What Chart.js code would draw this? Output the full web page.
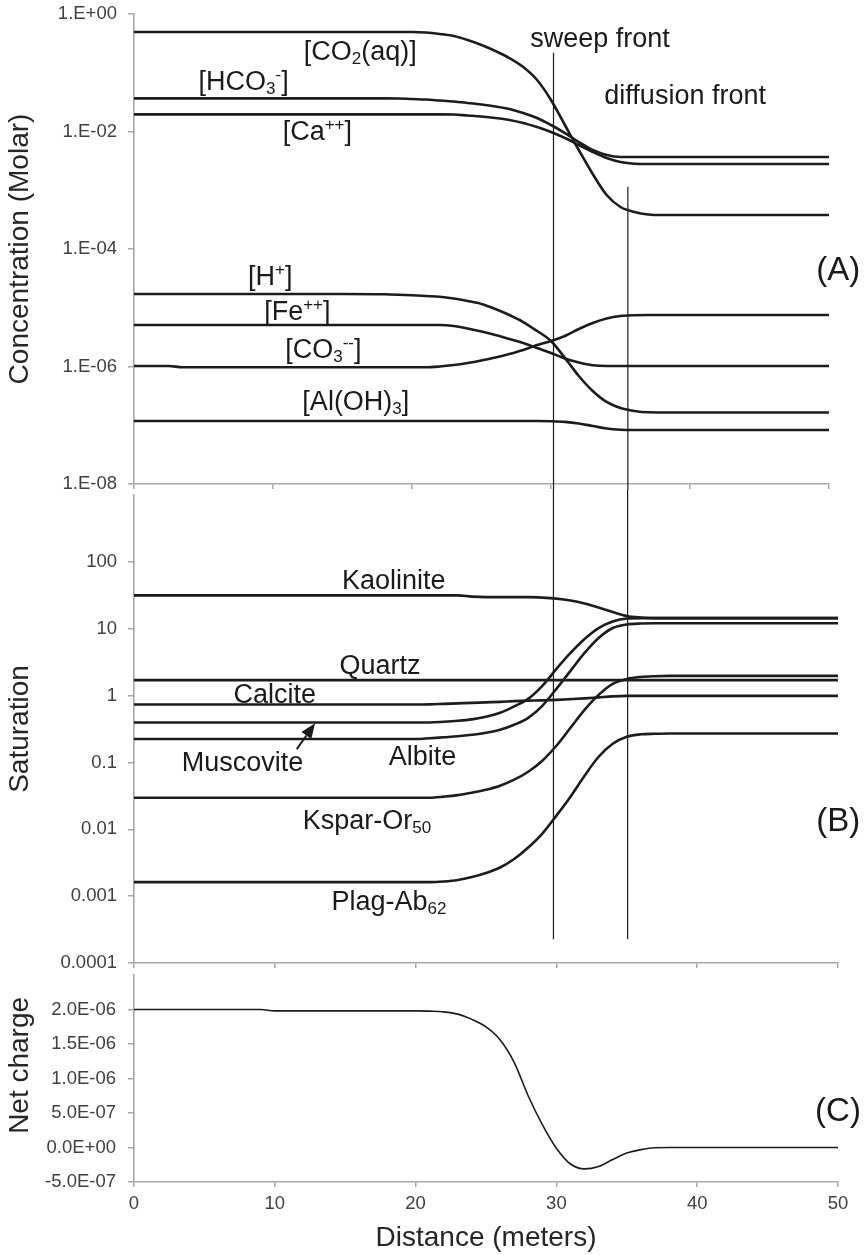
<!DOCTYPE html>
<html><head><meta charset="utf-8">
<script src="https://cdn.jsdelivr.net/npm/chart.js@4.4.1/dist/chart.umd.min.js"></script>
<style>
html,body{margin:0;padding:0;background:#fff;}
#wrap{position:relative;width:866px;height:1255px;overflow:hidden;background:#fff;}
.pane{position:absolute;left:0;width:866px;}
canvas{display:block;}
</style></head><body>
<div id="wrap">
<div class="pane" style="top:0;height:490px"><canvas id="cA" width="866" height="490"></canvas></div>
<div class="pane" style="top:490px;height:480px"><canvas id="cB" width="866" height="480"></canvas></div>
<div class="pane" style="top:970px;height:285px"><canvas id="cC" width="866" height="285"></canvas></div>
</div>
<script>
// ---------- data ----------
const distance = [0, 2.5, 3.5, 9, 10, 15, 18, 19, 20, 21, 22, 23, 24, 25, 26, 27, 28, 29, 30, 31, 32, 33, 34, 35, 36, 37, 38, 40, 45, 50];

// Panel A: concentrations (Molar)
const co2 = [0.494,0.494,0.494,0.494,0.494,0.494,0.494,0.494,0.494,0.484,0.457,0.422,0.361,0.297,0.235,0.178,0.125,0.0752,0.0344,0.0129,0.00484,0.00189,0.00083,0.000519,0.000426,0.000387,0.000379,0.000379,0.000379,0.000379];
const hco3 = [0.0367,0.0367,0.0367,0.0367,0.0367,0.0367,0.0367,0.0365,0.0357,0.0350,0.0337,0.0324,0.0306,0.0288,0.0267,0.0242,0.0207,0.0170,0.0129,0.00942,0.00662,0.00484,0.00398,0.00368,0.00368,0.00368,0.00368,0.00368,0.00368,0.00368];
const ca = [0.0196,0.0196,0.0196,0.0196,0.0196,0.0196,0.0196,0.0196,0.0196,0.0196,0.0196,0.01946,0.01872,0.0180,0.01698,0.0157,0.01396,0.01193,0.0098,0.00775,0.00589,0.00448,0.00354,0.00303,0.00283,0.0028,0.0028,0.0028,0.0028,0.0028];
const hPlus = [1.714e-5,1.714e-5,1.714e-5,1.714e-5,1.714e-5,1.714e-5,1.694e-5,1.667e-5,1.629e-5,1.585e-5,1.542e-5,1.437e-5,1.303e-5,1.158e-5,9.52e-6,7.53e-6,5.72e-6,4.02e-6,2.72e-6,1.40e-6,6.89e-7,3.83e-7,2.49e-7,1.97e-7,1.75e-7,1.66e-7,1.65e-7,1.65e-7,1.65e-7,1.65e-7];
const fe = [5.08e-6,5.08e-6,5.08e-6,5.08e-6,5.08e-6,5.08e-6,5.08e-6,5.08e-6,5.08e-6,5.08e-6,5.08e-6,4.89e-6,4.43e-6,3.94e-6,3.44e-6,2.94e-6,2.51e-6,2.06e-6,1.70e-6,1.37e-6,1.17e-6,1.05e-6,1.02e-6,1.02e-6,1.02e-6,1.02e-6,1.02e-6,1.02e-6,1.02e-6,1.02e-6];
const co3 = [1.02e-6,1.02e-6,9.69e-7,9.69e-7,9.69e-7,9.69e-7,9.69e-7,9.69e-7,9.69e-7,9.69e-7,1.00e-6,1.06e-6,1.15e-6,1.27e-6,1.42e-6,1.63e-6,1.91e-6,2.32e-6,2.72e-6,3.31e-6,4.35e-6,5.50e-6,6.56e-6,7.24e-6,7.47e-6,7.53e-6,7.53e-6,7.53e-6,7.53e-6,7.53e-6];
const alOH3 = [1.18e-7,1.18e-7,1.18e-7,1.18e-7,1.18e-7,1.18e-7,1.18e-7,1.18e-7,1.18e-7,1.18e-7,1.18e-7,1.18e-7,1.18e-7,1.18e-7,1.18e-7,1.18e-7,1.18e-7,1.18e-7,1.17e-7,1.14e-7,1.07e-7,9.71e-8,8.81e-8,8.40e-8,8.30e-8,8.30e-8,8.30e-8,8.30e-8,8.30e-8,8.30e-8];

// Panel B: saturation
const kaolinite = [31.5,31.5,31.5,31.5,31.5,31.5,31.5,31.5,31.5,31.5,31.5,31.5,30.2,29.7,29.7,29.7,29.7,29.2,28.2,26.4,23.8,20.7,17.8,15.5,14.7,14.4,14.4,14.4,14.4,14.4];
const quartz = [1.70,1.70,1.70,1.70,1.70,1.70,1.70,1.70,1.70,1.70,1.70,1.70,1.70,1.70,1.70,1.70,1.70,1.70,1.70,1.70,1.70,1.70,1.70,1.70,1.70,1.70,1.70,1.70,1.70,1.70];
const calcite = [0.734,0.734,0.734,0.734,0.734,0.734,0.734,0.734,0.734,0.739,0.752,0.765,0.778,0.792,0.805,0.825,0.839,0.848,0.863,0.884,0.908,0.940,0.973,0.990,0.990,0.990,0.990,0.990,0.990,0.990];
const muscovite = [0.395,0.395,0.395,0.395,0.395,0.395,0.395,0.395,0.395,0.395,0.405,0.419,0.441,0.481,0.552,0.690,0.893,1.396,2.503,4.339,7.021,10.24,12.81,14.2,14.4,14.4,14.4,14.4,14.4,14.4];
const albite = [0.2236,0.2236,0.2236,0.2236,0.2236,0.2236,0.2236,0.2236,0.2236,0.2297,0.2377,0.2460,0.2591,0.2775,0.3077,0.3653,0.4648,0.702,1.259,2.337,4.339,7.26,10.24,11.56,11.96,12.04,12.04,12.04,12.04,12.04];
const kspar = [0.0297,0.0297,0.0297,0.0297,0.0297,0.0297,0.0297,0.0297,0.0297,0.0297,0.0308,0.0324,0.0353,0.0391,0.0449,0.0552,0.0726,0.1060,0.1775,0.3296,0.6117,1.024,1.495,1.776,1.901,1.948,1.968,1.968,1.968,1.968];
const plag = [0.00162,0.00162,0.00162,0.00162,0.00162,0.00162,0.00162,0.00162,0.00162,0.00162,0.001657,0.001745,0.001934,0.00222,0.002682,0.003591,0.005331,0.008625,0.01601,0.03076,0.0633,0.1216,0.1902,0.2418,0.2636,0.2682,0.271,0.271,0.271,0.271];

// Panel C: net charge
const netCharge = [2.0e-6,2.0e-6,2.0e-6,2.0e-6,1.98e-6,1.98e-6,1.98e-6,1.98e-6,1.98e-6,1.976e-6,1.966e-6,1.933e-6,1.857e-6,1.747e-6,1.561e-6,1.233e-6,7.47e-7,3.33e-7,-1.0e-8,-2.39e-7,-3.10e-7,-2.74e-7,-1.74e-7,-8.1e-8,-3.1e-8,-3e-9,0,0,0,0];

// Ticks
const concTicks = [1e-8, 1e-6, 1e-4, 1e-2, 1];
const concTickLabels = ['1.E-08', '1.E-06', '1.E-04', '1.E-02', '1.E+00'];
const satTicks = [1e-4, 1e-3, 1e-2, 1e-1, 1, 10, 100];
const satTickLabels = ['0.0001', '0.001', '0.01', '0.1', '1', '10', '100'];
const chargeTicks = [-5e-7, 0, 5e-7, 1e-6, 1.5e-6, 2e-6];
const chargeTickLabels = ['-5.0E-07', '0.0E+00', '5.0E-07', '1.0E-06', '1.5E-06', '2.0E-06'];
const distTicks = [0, 10, 20, 30, 40, 50];

// Fronts (distance in each panel's own x scale), vertical extent in axis values
const sweepFrontX = {A: 30.18, B: 29.79};
const diffusionFrontX = {A: 35.53, B: 35.06};
const sweepFrontTopA = 0.2195;
const diffusionFrontTopA = 1.149e-3;
const frontsBottomB = 2.26e-4;

// ---------- styling ----------
const FONT = '"Liberation Sans", Arial, Helvetica, sans-serif';
const AXIS_COLOR = '#a8a8a8';
const TICK_COLOR = '#404040';
const TITLE_COLOR = '#262626';
const LINE_COLOR = '#1c1c1c';

function series(arr, w) {
  return {
    data: distance.map((d, i) => ({x: d, y: arr[i]})),
    borderColor: LINE_COLOR, borderWidth: w || 2.6, pointRadius: 0,
    cubicInterpolationMode: 'monotone', fill: false
  };
}
function front(x, top, bottom) {
  return {
    data: [{x: x, y: top}, {x: x, y: bottom}],
    borderColor: LINE_COLOR, borderWidth: 1.2, pointRadius: 0, clip: false, fill: false
  };
}
function xAxis(showLabels, height) {
  return {
    type: 'linear', min: 0, max: 50, position: 'bottom',
    afterBuildTicks: s => { s.ticks = distTicks.map(v => ({value: v})); },
    ticks: {display: showLabels, color: TICK_COLOR, font: {family: FONT, size: 18.5}, padding: 6, maxRotation: 0, autoSkip: false},
    grid: {drawOnChartArea: false, drawTicks: true, tickLength: 5, color: AXIS_COLOR, lineWidth: 1.5},
    border: {display: true, color: AXIS_COLOR, width: 1.6},
    title: {display: showLabels, text: 'Distance (meters)', color: TITLE_COLOR, font: {family: FONT, size: 28}, padding: {top: 0, bottom: 0}},
    afterFit: s => { s.height = height; s.paddingLeft = 0; s.paddingRight = 0; }
  };
}
function yAxis(type, min, max, tickVals, tickLabels, title, pad) {
  return {
    type: type, min: min, max: max, position: 'left',
    afterBuildTicks: s => { s.ticks = tickVals.map(v => ({value: v})); },
    ticks: {color: TICK_COLOR, font: {family: FONT, size: 18.5}, padding: pad, autoSkip: false,
            callback: (v, i) => tickLabels[i]},
    grid: {drawOnChartArea: false, drawTicks: true, tickLength: 6, color: AXIS_COLOR, lineWidth: 1.5},
    border: {display: true, color: AXIS_COLOR, width: 1.6},
    title: {display: !!title, text: title || '', color: TITLE_COLOR, font: {family: FONT, size: 28}, padding: {top: 3, bottom: 0}},
    afterFit: s => { s.width = 134; s.paddingTop = 0; s.paddingBottom = 0; }
  };
}

function drawRich(ctx, segs, cx, by, size) {
  const subSize = 17;
  const widths = segs.map(s => {
    ctx.font = (s[1] ? subSize : size) + 'px ' + FONT;
    return ctx.measureText(s[0]).width;
  });
  const total = widths.reduce((a, b) => a + b, 0);
  let x = cx - total / 2;
  segs.forEach((s, i) => {
    ctx.font = (s[1] ? subSize : size) + 'px ' + FONT;
    const dy = s[1] === 'sub' ? 4 : (s[1] === 'sup' ? -10 : 0);
    ctx.fillText(s[0], x, by + dy);
    x += widths[i];
  });
}

function labelPlugin(items, extra) {
  return {
    id: 'richLabels',
    afterDatasetsDraw(chart) {
      const ctx = chart.ctx, xs = chart.scales.x, ys = chart.scales.y;
      ctx.save();
      ctx.fillStyle = '#1a1a1a';
      ctx.textAlign = 'left';
      ctx.textBaseline = 'alphabetic';
      items.forEach(it => drawRich(ctx, it.segs, xs.getPixelForValue(it.at[0]), ys.getPixelForValue(it.at[1]), it.size || 27));
      if (extra) extra(chart, ctx, xs, ys);
      ctx.restore();
    }
  };
}

// ---------- annotations ----------
const concAnnotations = [
  {segs: [['[CO'], ['2', 'sub'], ['(aq)]']], at: [16.28, 0.1648]},
  {segs: [['[HCO'], ['3', 'sub'], ['-', 'sup'], [']']], at: [7.89, 0.0508]},
  {segs: [['[Ca'], ['++', 'sup'], [']']], at: [13.19, 0.00717]},
  {segs: [['sweep front']], at: [33.53, 0.2744]},
  {segs: [['diffusion front']], at: [39.65, 0.02938]},
  {segs: [['[H'], ['+', 'sup'], [']']], at: [9.80, 2.438e-5]},
  {segs: [['[Fe'], ['++', 'sup'], [']']], at: [11.75, 6.19e-6]},
  {segs: [['[CO'], ['3', 'sub'], ['--', 'sup'], [']']], at: [13.62, 1.379e-6]},
  {segs: [['[Al(OH)'], ['3', 'sub'], [']']], at: [15.96, 1.818e-7]},
  {segs: [['(A)']], at: [50.67, 2.967e-5], size: 33}
];
const satAnnotations = [
  {segs: [['Kaolinite']], at: [18.45, 39.5]},
  {segs: [['Quartz']], at: [17.47, 2.086]},
  {segs: [['Calcite']], at: [9.99, 0.786]},
  {segs: [['Muscovite']], at: [7.71, 0.0752]},
  {segs: [['Albite']], at: [20.49, 0.0924]},
  {segs: [['Kspar-Or'], ['50', 'sub']], at: [16.55, 0.01014]},
  {segs: [['Plag-Ab'], ['62', 'sub']], at: [18.11, 6.118e-4]},
  {segs: [['(B)']], at: [50.02, 0.00957], size: 33}
];
const muscoviteArrow = {tail: [11.56, 0.158], tip: [12.86, 0.385]};
const chargeAnnotations = [
  {segs: [['(C)']], at: [50.0, 0.39e-6], size: 33}
];
const chargeTitleCenter = 1.19e-6;

const base = {
  responsive: false, animation: false, devicePixelRatio: 1,
  plugins: {legend: {display: false}, tooltip: {enabled: false}}
};

// ---------- Panel A ----------
new Chart(document.getElementById('cA'), {
  type: 'line',
  data: {datasets: [
    series(co2), series(hco3), series(ca), series(hPlus), series(fe), series(co3), series(alOH3),
    front(sweepFrontX.A, sweepFrontTopA, 1e-9),
    front(diffusionFrontX.A, diffusionFrontTopA, 1e-9)
  ]},
  options: Object.assign({}, base, {
    layout: {padding: {top: 14, right: 37, bottom: 0, left: 0}},
    scales: {
      x: xAxis(false, 6),
      y: yAxis('logarithmic', 1e-8, 1, concTicks, concTickLabels, 'Concentration (Molar)', 11)
    }
  }),
  plugins: [labelPlugin(concAnnotations)]
});

// ---------- Panel B ----------
new Chart(document.getElementById('cB'), {
  type: 'line',
  data: {datasets: [
    series(kaolinite), series(quartz), series(calcite), series(muscovite), series(albite), series(kspar), series(plag),
    front(sweepFrontX.B, 1e4, frontsBottomB),
    front(diffusionFrontX.B, 1e4, frontsBottomB)
  ]},
  options: Object.assign({}, base, {
    layout: {padding: {top: 5, right: 28, bottom: 0, left: 0}},
    scales: {
      x: xAxis(false, 7),
      y: yAxis('logarithmic', 1e-4, 1000, satTicks, satTickLabels, 'Saturation', 11)
    }
  }),
  plugins: [labelPlugin(satAnnotations, (chart, ctx, xs, ys) => {
    const x1 = xs.getPixelForValue(muscoviteArrow.tail[0]), y1 = ys.getPixelForValue(muscoviteArrow.tail[1]);
    const x2 = xs.getPixelForValue(muscoviteArrow.tip[0]), y2 = ys.getPixelForValue(muscoviteArrow.tip[1]);
    const ang = Math.atan2(y2 - y1, x2 - x1), L = 15, W = 6;
    const bx = x2 - L * Math.cos(ang), by = y2 - L * Math.sin(ang);
    ctx.strokeStyle = '#1a1a1a'; ctx.lineWidth = 2;
    ctx.beginPath(); ctx.moveTo(x1, y1); ctx.lineTo(bx, by); ctx.stroke();
    ctx.beginPath();
    ctx.moveTo(x2, y2);
    ctx.lineTo(bx + W * Math.sin(ang), by - W * Math.cos(ang));
    ctx.lineTo(bx - W * Math.sin(ang), by + W * Math.cos(ang));
    ctx.closePath(); ctx.fill();
  })]
});

// ---------- Panel C ----------
new Chart(document.getElementById('cC'), {
  type: 'line',
  data: {datasets: [series(netCharge, 1.6)]},
  options: Object.assign({}, base, {
    layout: {padding: {top: 5, right: 28, bottom: 0, left: 0}},
    scales: {
      x: xAxis(true, 73),
      y: yAxis('linear', -5e-7, 2.5e-6, chargeTicks, chargeTickLabels, null, 12)
    }
  }),
  plugins: [labelPlugin(chargeAnnotations, (chart, ctx, xs, ys) => {
    ctx.save();
    ctx.fillStyle = TITLE_COLOR;
    ctx.font = '28px ' + FONT;
    ctx.textAlign = 'center'; ctx.textBaseline = 'middle';
    ctx.translate(19.8, ys.getPixelForValue(chargeTitleCenter));
    ctx.rotate(-Math.PI / 2);
    ctx.fillText('Net charge', 0, 0);
    ctx.restore();
  })]
});
</script>
</body></html>
